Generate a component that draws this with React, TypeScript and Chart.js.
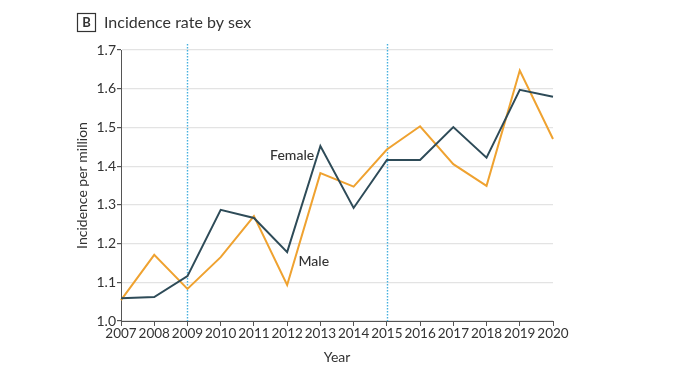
import React, { useEffect, useRef } from "react";
import { Chart, registerables } from "chart.js";

Chart.register(...registerables);

const years = ["2007", "2008", "2009", "2010", "2011", "2012", "2013", "2014", "2015", "2016", "2017", "2018", "2019", "2020"];
const female = [1.059, 1.062, 1.116, 1.287, 1.266, 1.178, 1.452, 1.292, 1.416, 1.416, 1.501, 1.422, 1.597, 1.579];
const male = [1.054, 1.171, 1.083, 1.165, 1.271, 1.093, 1.382, 1.347, 1.443, 1.503, 1.405, 1.349, 1.647, 1.470];
const markerYears = ["2009", "2015"];
const seriesLabels = [
  { text: "Female", xIndex: 5.15, y: 1.427 },
  { text: "Male", xIndex: 5.8, y: 1.153 },
];
const panelLetter = "B";
const panelTitle = "Incidence rate by sex";

const FONT = "Lato, 'Open Sans', sans-serif";
const TEXT = "#333333";

export default function App() {
  const ref = useRef<HTMLCanvasElement | null>(null);

  useEffect(() => {
    document.body.style.margin = "0";
    const canvas = ref.current;
    if (!canvas) return;

    const overlay = {
      id: "overlay",
      beforeDatasetsDraw(chart: any) {
        const { ctx, scales, chartArea } = chart;
        ctx.save();
        ctx.strokeStyle = "#45b0de";
        ctx.lineWidth = 1.4;
        ctx.setLineDash([1.5, 1.5]);
        markerYears.forEach((yr) => {
          const x = Math.round(scales.x.getPixelForValue(years.indexOf(yr))) + 0.5;
          ctx.beginPath();
          ctx.moveTo(x, chartArea.top - 6);
          ctx.lineTo(x, chartArea.bottom);
          ctx.stroke();
        });
        ctx.restore();
      },
      afterDraw(chart: any) {
        const { ctx, scales } = chart;
        ctx.save();
        ctx.fillStyle = TEXT;
        ctx.font = `500 14px ${FONT}`;
        ctx.textAlign = "center";
        ctx.textBaseline = "middle";
        seriesLabels.forEach((l) => {
          const x = scales.x.getPixelForValue(l.xIndex);
          const y = scales.y.getPixelForValue(l.y);
          ctx.fillText(l.text, x, y);
        });
        ctx.strokeStyle = "#333333";
        ctx.lineWidth = 1.2;
        ctx.setLineDash([]);
        ctx.strokeRect(77.5, 13.5, 18, 18);
        ctx.font = `bold 13px ${FONT}`;
        ctx.fillText(panelLetter, 86.5, 23);
        ctx.textAlign = "left";
        ctx.font = `16px ${FONT}`;
        ctx.fillText(panelTitle, 104, 22.5);
        ctx.restore();
      },
    };

    const chart = new Chart(canvas, {
      type: "line",
      data: {
        labels: years,
        datasets: [
          {
            label: "Female",
            data: female,
            borderColor: "#2e4b58",
            borderWidth: 2,
            pointRadius: 0,
            tension: 0,
          },
          {
            label: "Male",
            data: male,
            borderColor: "#efa230",
            borderWidth: 2,
            pointRadius: 0,
            tension: 0,
          },
        ],
      },
      options: {
        animation: false,
        responsive: false,
        maintainAspectRatio: false,
        layout: { padding: { left: 74, right: 137, top: 50, bottom: 22 } },
        plugins: {
          legend: { display: false },
          tooltip: { enabled: false },
          title: { display: false },
        },
        scales: {
          x: {
            type: "category",
            offset: false,
            grid: {
              drawOnChartArea: false,
              drawTicks: true,
              tickLength: 5,
              tickColor: "#555555",
            },
            border: { color: "#555555", width: 1 },
            ticks: {
              color: TEXT,
              font: { family: FONT, size: 13.5 },
              padding: 0,
              maxRotation: 0,
              autoSkip: false,
            },
            title: {
              display: true,
              text: "Year",
              color: TEXT,
              font: { family: FONT, size: 14 },
              padding: { top: 4, bottom: 0 },
            },
            afterFit: (s: any) => {
              s.height = 45;
            },
          },
          y: {
            min: 1.0,
            max: 1.7,
            grid: {
              color: "#e3e3e3",
              lineWidth: 1.2,
              drawTicks: true,
              tickLength: 4,
              tickColor: "#555555",
            },
            border: { color: "#555555", width: 1 },
            ticks: {
              stepSize: 0.1,
              color: TEXT,
              font: { family: FONT, size: 14 },
              padding: 1,
              callback: (v: any) => Number(v).toFixed(1),
            },
            title: {
              display: true,
              text: "Incidence per million",
              color: TEXT,
              font: { family: FONT, size: 14 },
              padding: { top: 0, bottom: 0 },
            },
            afterFit: (s: any) => {
              s.width = 47;
            },
          },
        },
      },
      plugins: [overlay],
    });

    return () => chart.destroy();
  }, []);

  return (
    <div style={{ position: "absolute", left: 0, top: 0, width: 690, height: 388, background: "#ffffff" }}>
      <canvas ref={ref} width={690} height={388} style={{ width: 690, height: 388, display: "block" }} />
    </div>
  );
}
